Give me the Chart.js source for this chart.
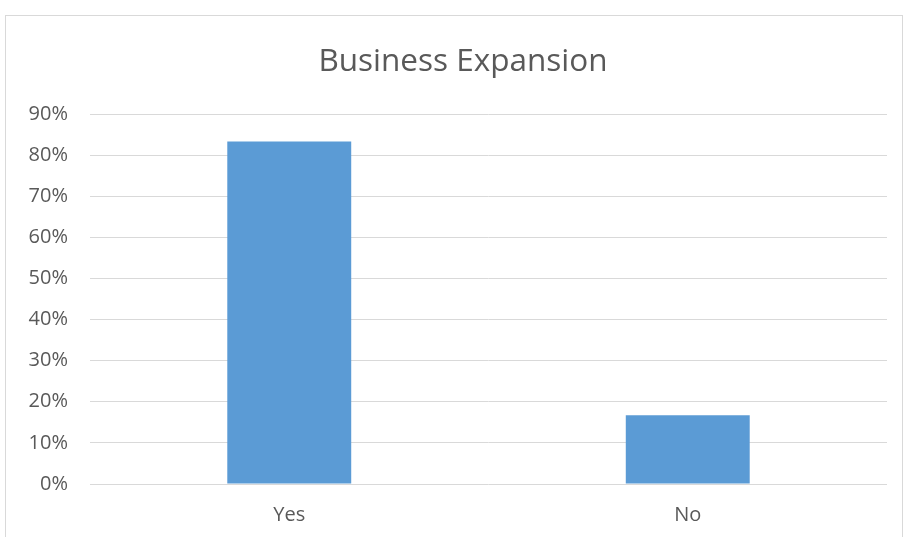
<!DOCTYPE html>
<html>
<head>
<meta charset="utf-8">
<script src="https://cdn.jsdelivr.net/npm/chart.js@4/dist/chart.umd.min.js"></script>
<style>
html,body{margin:0;padding:0;background:#fff;}
#wrap{position:relative;width:904px;height:537px;}
</style>
</head>
<body>
<div id="wrap"><canvas id="c" width="904" height="537"></canvas></div>
<script>
const titleText = "Business Expansion";
const categories = ["Yes", "No"];
const values = [83.3, 16.7];
const yTicksMax = 90;
const yStep = 10;

const framePlugin = {
  id: 'frame',
  beforeDraw(chart) {
    const ctx = chart.ctx;
    ctx.save();
    ctx.fillStyle = '#fff';
    ctx.fillRect(0, 0, chart.width, chart.height);
    ctx.strokeStyle = '#d9d9d9';
    ctx.lineWidth = 1;
    ctx.strokeRect(5.5, 15.5, 897, 540);
    ctx.restore();
  },
  afterDraw(chart) {
    const ctx = chart.ctx;
    ctx.save();
    ctx.fillStyle = '#595959';
    ctx.font = '31.5px "Open Sans"';
    ctx.textAlign = 'center';
    ctx.textBaseline = 'middle';
    ctx.fillText(titleText, 463, 62);
    ctx.restore();
  }
};

new Chart(document.getElementById('c'), {
  type: 'bar',
  data: {
    labels: categories,
    datasets: [{
      data: values,
      backgroundColor: '#5b9bd5',
      borderWidth: 0,
      categoryPercentage: 1,
      barPercentage: 0.311
    }]
  },
  options: {
    responsive: false,
    animation: false,
    layout: { padding: { left: 0, right: 17, top: 114, bottom: 0 } },
    plugins: {
      legend: { display: false },
      tooltip: { enabled: false },
      title: { display: false }
    },
    scales: {
      x: {
        grid: { display: false, drawTicks: false },
        border: { display: false },
        ticks: { color: '#595959', font: { family: 'Open Sans', size: 20 }, padding: 19 },
        afterFit(s) { s.height = 53; }
      },
      y: {
        min: 0,
        max: yTicksMax,
        grid: { color: '#d9d9d9', lineWidth: 1, drawTicks: false },
        border: { display: false },
        ticks: {
          stepSize: yStep,
          color: '#595959',
          font: { family: 'Open Sans', size: 20 },
          padding: 22,
          callback: v => v + '%'
        },
        afterFit(s) { s.width = 90; }
      }
    }
  },
  plugins: [framePlugin]
});
</script>
</body>
</html>
